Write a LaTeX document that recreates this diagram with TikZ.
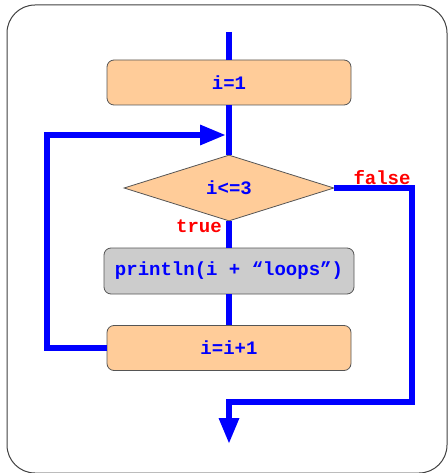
\documentclass[tikz,border=0pt]{standalone}
\usepackage{fontspec}
\setmonofont{Liberation Mono}
\usetikzlibrary{shapes.geometric,arrows.meta}
\definecolor{boxfill}{HTML}{FFCC99}
\definecolor{grayfill}{HTML}{CCCCCC}
\definecolor{edge}{HTML}{555555}
\tikzset{
  codefont/.style={font=\ttfamily\bfseries\fontsize{19}{21}\selectfont},
  flow/.style={draw=blue, line width=6pt},
  flowarrow/.style={flow, -{Triangle[length=26pt,width=19pt]}},
  stepbox/.style={draw=edge, line width=0.8pt, fill=boxfill, rounded corners=7pt,
    minimum width=244pt, minimum height=45pt, inner sep=0pt, codefont, text=blue},
  graybox/.style={stepbox, fill=grayfill, minimum width=250pt, minimum height=46pt},
  decision/.style={draw=edge, line width=0.8pt, fill=boxfill, diamond, aspect=3.18,
    minimum width=210pt, minimum height=66pt, inner sep=0pt, codefont, text=blue},
  branch/.style={text=red, codefont, inner sep=0pt}
}
\begin{document}
\begin{tikzpicture}[x=1pt,y=-1pt]
  \useasboundingbox (0,0) rectangle (447,473);
  % outer frame
  \draw[black!75, line width=1pt, rounded corners=28pt] (7,5) rectangle (447,473);

  % flow nodes
  \node[stepbox] (init) at (229,82.5) {i=1};
  \node[decision] (test) at (229,188) {i<=3};
  \node[graybox] (body) at (229,271) {println(i + “loops”)};
  \node[stepbox] (incr) at (229,348) {i=i+1};

  \coordinate (start) at (229,32);
  \coordinate (join) at (226,135);
  \coordinate (exitend) at (229,444);

  % connectors
  \draw[flow] (start) -- (init.north);
  \draw[flow] (init.south) -- (test.north);
  \draw[flow] (test.south) -- (body.north);
  \draw[flow] (body.south) -- (incr.north);
  \draw[flowarrow] (incr.west) -- (47,348) -- (47,135) -- (join);
  \draw[flow] (test.east) -- (412,188) -- (412,402) -- (229,402) -- (229,416);
  \draw[flowarrow] (229,400) -- (exitend);

  % branch labels
  \node[branch, anchor=base] (lf) at (382,184) {false};
  \node[branch, anchor=base] (lt) at (199,232) {true};
\end{tikzpicture}
\end{document}
